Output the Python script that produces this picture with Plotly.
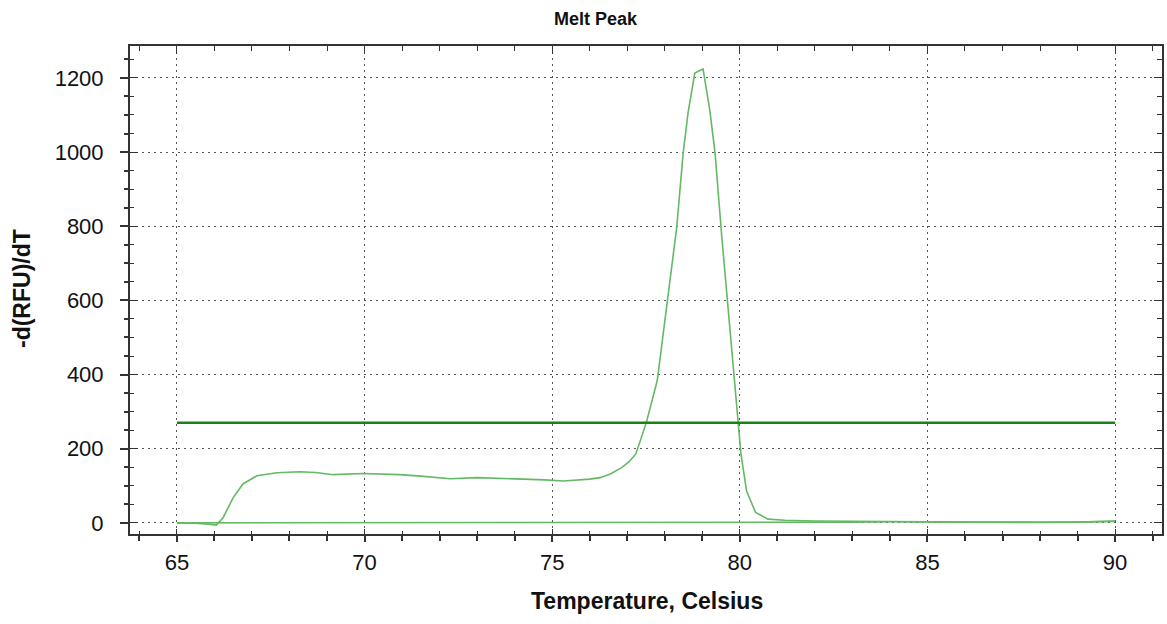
import plotly.graph_objects as go

# Melt peak sample curve
temp_sample = [65.0, 65.5, 65.9, 66.05, 66.23, 66.5, 66.76, 67.13, 67.67, 68.28, 68.7, 69.16,
               69.96, 70.5, 70.94, 71.5, 72.28, 73.0, 73.6, 74.2, 74.8, 75.3, 75.7, 76.0,
               76.27, 76.55, 76.85, 77.05, 77.23, 77.51, 77.8, 78.05, 78.32, 78.49, 78.62,
               78.8, 79.02, 79.2, 79.34, 79.52, 79.7, 79.94, 80.03, 80.18, 80.42, 80.75,
               81.2, 82, 83, 84, 85, 86, 87, 88, 89, 90]
rfu_sample = [0, -1, -4, -6, 14, 68, 105, 127, 135, 138, 136, 130,
              133, 132, 130, 126, 119, 122, 120, 119, 116, 113, 115, 118,
              122, 132, 149, 165, 186, 271, 384, 580, 798, 997, 1105,
              1213, 1224, 1113, 997, 771, 560, 271, 186, 86, 28, 10,
              7, 5, 5, 3, 3, 2, 2, 1, 2, 5]

# Flat (negative) curve
temp_flat = [65, 66, 67, 68, 69, 70, 71, 72, 73, 74, 75, 76, 77, 78, 79, 80, 81, 82, 83, 84,
             85, 86, 87, 88, 89, 90]
rfu_flat = [0, 0, 1, 2, 2, 1, 2, 2, 1, 1, 1, 2, 1, 2, 1, 1, 1, 2, 2, 3, 2, 2, 1, 1, 2, 4]

# Threshold line
temp_threshold = [65, 90]
rfu_threshold = [270, 270]

x_ticks = [65, 70, 75, 80, 85, 90]
y_ticks = [0, 200, 400, 600, 800, 1000, 1200]

FONT = "Arial, Liberation Sans, sans-serif"
light_green = "rgb(100,185,100)"
dark_green = "rgb(25,130,25)"
axis_col = "#333"
grid_dash = "2px,4px"

fig = go.Figure()
fig.add_trace(go.Scatter(x=temp_flat, y=rfu_flat, mode="lines",
                         line=dict(color=light_green, width=1.6), hoverinfo="skip"))
fig.add_trace(go.Scatter(x=temp_sample, y=rfu_sample, mode="lines",
                         line=dict(color=light_green, width=1.6)))
fig.add_trace(go.Scatter(x=temp_threshold, y=rfu_threshold, mode="lines",
                         line=dict(color=dark_green, width=2.6)))

xr = [63.75, 91.25]
yr = [-30, 1286]

L, R, T, B = 130, 5, 46, 90
W, H = 1167, 624
pw, ph = W - L - R, H - T - B

fig.update_layout(
    width=W, height=H,
    margin=dict(l=L, r=R, t=T, b=B),
    paper_bgcolor="white", plot_bgcolor="white",
    showlegend=False,
    font=dict(family=FONT, color="black"),
    xaxis=dict(range=xr, tickvals=x_ticks, ticks="outside", ticklen=6, tickwidth=1.5,
               tickcolor=axis_col, showline=True, linecolor=axis_col, linewidth=2,
               showgrid=True, gridcolor="#555", griddash=grid_dash, gridwidth=1,
               zeroline=False, tickfont=dict(size=22, family=FONT, color="#111"),
               ticklabelstandoff=2,
               minor=dict(dtick=1, ticks="outside", ticklen=5, tickcolor=axis_col, showgrid=False)),
    yaxis=dict(range=yr, tickvals=y_ticks, ticks="outside", ticklen=8, tickwidth=1.5,
               tickcolor=axis_col, showline=True, linecolor=axis_col, linewidth=2,
               showgrid=True, gridcolor="#555", griddash=grid_dash, gridwidth=1,
               zeroline=False, tickfont=dict(size=22, family=FONT, color="#111"),
               ticklabelstandoff=12,
               minor=dict(dtick=50, tick0=0, ticks="outside", ticklen=4, tickcolor=axis_col, showgrid=False)),
    xaxis2=dict(range=xr, overlaying="x", side="top", tickvals=x_ticks, ticks="inside",
                ticklen=8, tickcolor=axis_col, showticklabels=False, showline=True,
                linecolor=axis_col, linewidth=2, showgrid=False, zeroline=False,
                minor=dict(dtick=1, ticks="inside", ticklen=5, tickcolor=axis_col, showgrid=False)),
    xaxis3=dict(range=xr, overlaying="x", side="bottom", tickvals=x_ticks, ticks="inside",
                ticklen=5, tickcolor=axis_col, showticklabels=False, showline=False,
                showgrid=False, zeroline=False,
                minor=dict(dtick=1, ticks="inside", ticklen=3, tickcolor=axis_col, showgrid=False)),
    yaxis2=dict(range=yr, overlaying="y", side="right", tickvals=y_ticks, ticks="inside",
                ticklen=8, tickcolor=axis_col, showticklabels=False, showline=True,
                linecolor=axis_col, linewidth=2, showgrid=False, zeroline=False,
                minor=dict(dtick=50, tick0=0, ticks="inside", ticklen=5, tickcolor=axis_col, showgrid=False)),
    yaxis3=dict(range=yr, overlaying="y", side="left", tickvals=y_ticks, ticks="inside",
                ticklen=8, tickcolor=axis_col, showticklabels=False, showline=False,
                showgrid=False, zeroline=False,
                minor=dict(dtick=50, tick0=0, ticks="inside", ticklen=4, tickcolor=axis_col, showgrid=False)),
    annotations=[
        dict(text="<b>Melt Peak</b>", xref="paper", yref="paper",
             x=(596 - L) / pw, y=1 + (T - 19) / ph, showarrow=False,
             font=dict(size=18, family=FONT, color="#111"), xanchor="center", yanchor="middle"),
        dict(text="<b>Temperature, Celsius</b>", xref="paper", yref="paper",
             x=(647 - L) / pw, y=-(601 - (H - B)) / ph, showarrow=False,
             font=dict(size=23, family=FONT, color="#111"), xanchor="center", yanchor="middle"),
        dict(text="<b>-d(RFU)/dT</b>", xref="paper", yref="paper", textangle=-90,
             x=(22 - L) / pw, y=1 - (289 - T) / ph, showarrow=False,
             font=dict(size=23, family=FONT, color="#111"), xanchor="center", yanchor="middle"),
    ],
)

# invisible anchors to activate the overlay axes (tick decorations only)
fig.add_trace(go.Scatter(x=[xr[0]], y=[yr[0]], xaxis="x2", yaxis="y2", mode="markers",
                         marker=dict(opacity=0), hoverinfo="skip"))
fig.add_trace(go.Scatter(x=[xr[0]], y=[yr[0]], xaxis="x3", yaxis="y3", mode="markers",
                         marker=dict(opacity=0), hoverinfo="skip"))

fig.write_html("out.html")
